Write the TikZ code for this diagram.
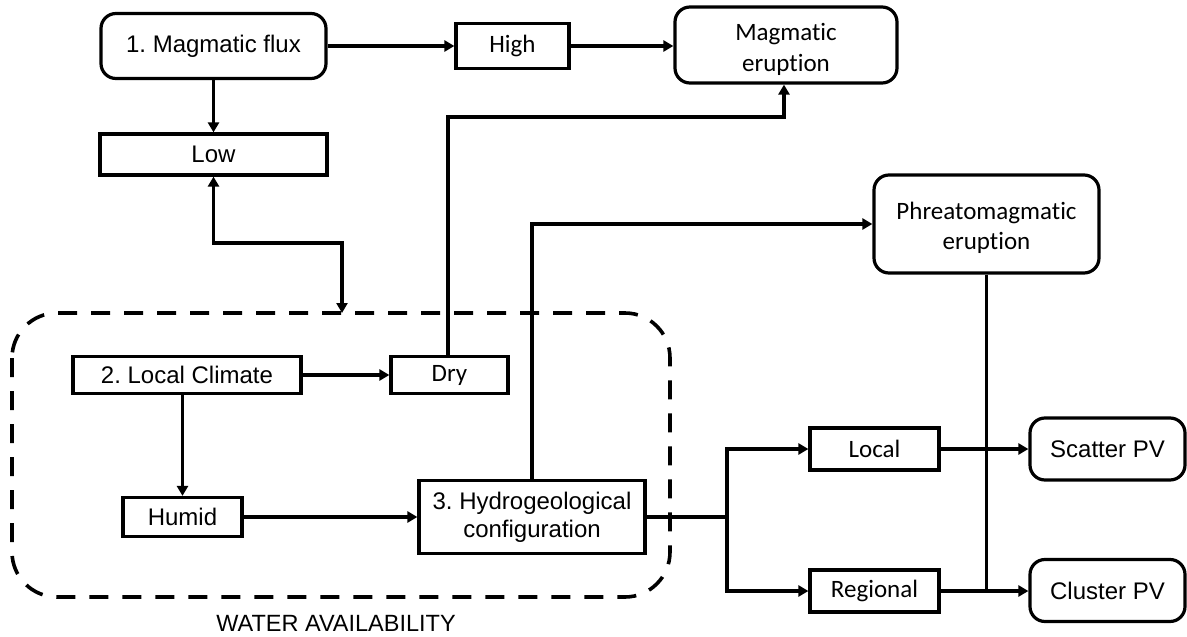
\documentclass[tikz,border=0pt]{standalone}
\usepackage{fontspec}
\setmainfont{Liberation Sans}
\newfontfamily\carl[Ligatures={NoCommon}]{Carlito}
\usetikzlibrary{arrows.meta}
\frenchspacing
\tikzset{
  tip/.tip={Triangle[length=10pt,width=11pt]},
  box/.style={draw, line width=3.2pt, inner sep=0pt, align=center, font=\fontsize{24}{28}\selectfont},
  rbox/.style={box, rounded corners=15pt},
  cbox/.style={box, font=\carl\fontsize{25}{30}\selectfont},
  crbox/.style={rbox},
  clab/.style={align=center, inner sep=0pt, font=\carl\fontsize{25}{31}\selectfont, yshift=-4pt},
  conn/.style={line width=3.2pt, -tip},
  plain/.style={line width=3.2pt},
  zone/.style={draw, line width=3.6pt, dash pattern=on 19pt off 14pt, rounded corners=45pt}
}
\begin{document}
\begin{tikzpicture}[x=1pt,y=-1pt]
\useasboundingbox (0,0) rectangle (1187,637);
% dashed zone
\draw[zone] (12,313) rectangle (670,597);
\node[font=\fontsize{23.5}{28}\selectfont] (wlab) at (336,623) {WATER AVAILABILITY};
% nodes
\node[rbox, minimum width=225pt, minimum height=65pt] (flux) at (213.5,46) {1. Magmatic flux};
\node[cbox, minimum width=113pt, minimum height=45pt] (high) at (512.5,46) {High};
\node[crbox, minimum width=222pt, minimum height=76pt, label={[clab]center:{Magmatic\\eruption}}] (meru) at (786,45) {};
\node[box, minimum width=227pt, minimum height=41pt] (low) at (213.5,154.5) {Low};
\node[cbox, minimum width=117pt, minimum height=37pt] (dry) at (449.5,375) {Dry};
\node[box, minimum width=228pt, minimum height=37pt] (clim) at (187,375) {2. Local Climate};
\node[box, minimum width=119pt, minimum height=39pt] (humid) at (182.5,517) {Humid};
\node[box, minimum width=226pt, minimum height=73pt] (hydro) at (532,517) {3. Hydrogeological\\configuration};
\node[crbox, minimum width=225pt, minimum height=98pt, label={[clab, font=\carl\fontsize{25}{30}\selectfont]center:{Phreatomagmatic\\eruption}}] (phr) at (986.5,224) {};
\node[cbox, minimum width=129pt, minimum height=42pt] (loc) at (874.5,449) {Local};
\node[cbox, minimum width=129pt, minimum height=42pt] (reg) at (874.5,591) {Regional};
\node[rbox, minimum width=155pt, minimum height=62pt] (sca) at (1107.5,449) {Scatter PV};
\node[rbox, minimum width=155pt, minimum height=62pt] (clu) at (1107.5,590.5) {Cluster PV};
% coordinates
\coordinate (wa) at (342,313);
\coordinate (k1) at (213.5,243);
\coordinate (k2) at (448,117);
\coordinate (br) at (727,517);
% connectors
\draw[conn] (flux.east) -- (high.west);
\draw[conn] (high.east) -- (high.east -| meru.west);
\draw[conn] (flux.south) -- (low.north);
\draw[line width=3.2pt, tip-tip] (low.south) -- (k1) -| (wa);
\draw[conn] (dry.north -| k2) -- (k2) -| ([xshift=-2pt]meru.south);
\draw[conn] (hydro.north) |- (phr.west);
\draw[conn] (clim.east) -- (dry.west);
\draw[conn] (clim.south -| humid.north) -- (humid.north);
\draw[conn] (humid.east) -- (hydro.west);
\draw[plain] (hydro.east) -- (br);
\draw[conn] (br) |- (loc.west);
\draw[conn] (br) |- (reg.west);
\draw[conn] (loc.east) -- (sca.west);
\draw[conn] (reg.east) -- (reg.east -| clu.west);
\draw[plain] (phr.south) -- (phr.south |- reg.east);
\end{tikzpicture}
\end{document}
